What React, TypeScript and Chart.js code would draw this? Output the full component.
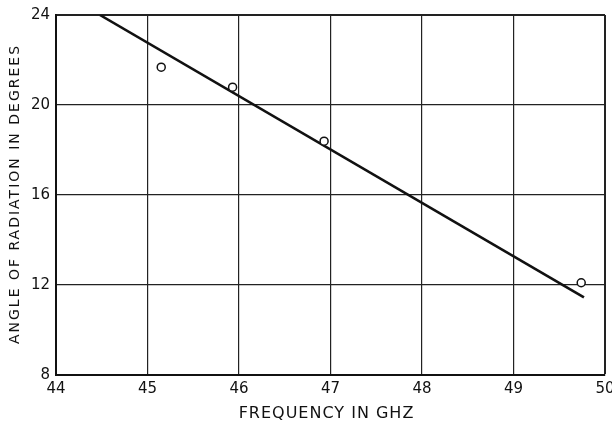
import React, { useEffect, useRef } from "react";
import { Chart, registerables } from "chart.js";

Chart.register(...registerables);

// Measured data points (open circles)
const freqPoints: number[] = [45.15, 45.93, 46.93, 49.74];
const anglePoints: number[] = [21.68, 20.79, 18.39, 12.1];

// Fitted straight line (end points)
const fitFreq: number[] = [44.48, 49.77];
const fitAngle: number[] = [24.0, 11.45];

// Axis settings / labels
const xTitle = "FREQUENCY IN GHZ";
const yTitle = "ANGLE OF RADIATION IN DEGREES";
const xMin = 44;
const xMax = 50;
const yMin = 8;
const yMax = 24;
const xStep = 1;
const yStep = 4;

const FONT = "'DejaVu Sans', 'Liberation Sans', sans-serif";

const titlePlugin = {
  id: "spacedTitles",
  afterDraw(chart: any) {
    const { ctx, chartArea } = chart;
    ctx.save();
    ctx.fillStyle = "#111";
    ctx.textAlign = "center";
    ctx.textBaseline = "middle";
    // x title
    ctx.font = `16px ${FONT}`;
    (ctx as any).letterSpacing = "1px";
    ctx.fillText(xTitle, (chartArea.left + chartArea.right) / 2 - 4, chart.height - 9.5);
    // y title
    ctx.font = `14px ${FONT}`;
    (ctx as any).letterSpacing = "2px";
    ctx.translate(15, (chartArea.top + chartArea.bottom) / 2 - 1);
    ctx.rotate(-Math.PI / 2);
    ctx.fillText(yTitle, 0, 0);
    ctx.restore();
  },
};

export default function App() {
  const ref = useRef<HTMLCanvasElement | null>(null);

  useEffect(() => {
    if (!ref.current) return;
    const chart = new Chart(ref.current, {
      type: "scatter",
      data: {
        datasets: [
          {
            label: "measured",
            data: freqPoints.map((x, i) => ({ x, y: anglePoints[i] })),
            pointRadius: 4,
            pointBorderWidth: 1.5,
            pointBackgroundColor: "#ffffff",
            pointBorderColor: "#111",
            showLine: false,
          },
          {
            label: "fit",
            data: fitFreq.map((x, i) => ({ x, y: fitAngle[i] })),
            showLine: true,
            pointRadius: 0,
            borderColor: "#111",
            borderWidth: 2.6,
          },
        ],
      },
      options: {
        animation: false,
        responsive: false,
        maintainAspectRatio: false,
        layout: { padding: { top: 15, right: 7, left: 0, bottom: 0 } },
        plugins: {
          legend: { display: false },
          tooltip: { enabled: false },
          title: { display: false },
        },
        scales: {
          x: {
            type: "linear",
            min: xMin,
            max: xMax,
            ticks: {
              stepSize: xStep,
              color: "#111",
              font: { family: FONT, size: 15 },
              padding: 5,
              maxRotation: 0,
            },
            grid: {
              color: "#222",
              lineWidth: (c: any) => (c.tick && c.tick.value === xMax ? 2 : 1.2),
              drawTicks: false,
            },
            border: { display: true, color: "#111", width: 2 },
            afterFit(scale: any) {
              scale.height = 48;
              scale.paddingLeft = 0;
              scale.paddingRight = 0;
            },
          },
          y: {
            type: "linear",
            min: yMin,
            max: yMax,
            ticks: {
              stepSize: yStep,
              color: "#111",
              font: { family: FONT, size: 15 },
              padding: 6,
            },
            grid: {
              color: "#222",
              lineWidth: (c: any) => (c.tick && c.tick.value === yMax ? 2 : 1.2),
              drawTicks: false,
            },
            border: { display: true, color: "#111", width: 2 },
            afterFit(scale: any) {
              scale.width = 56;
              scale.paddingTop = 0;
              scale.paddingBottom = 0;
            },
          },
        },
      },
      plugins: [titlePlugin],
    } as any);
    return () => chart.destroy();
  }, []);

  return (
    <div style={{ position: "absolute", left: 0, top: 0, width: 612, height: 423, background: "#fff" }}>
      <canvas ref={ref} width={612} height={423} style={{ width: 612, height: 423 }} />
    </div>
  );
}
